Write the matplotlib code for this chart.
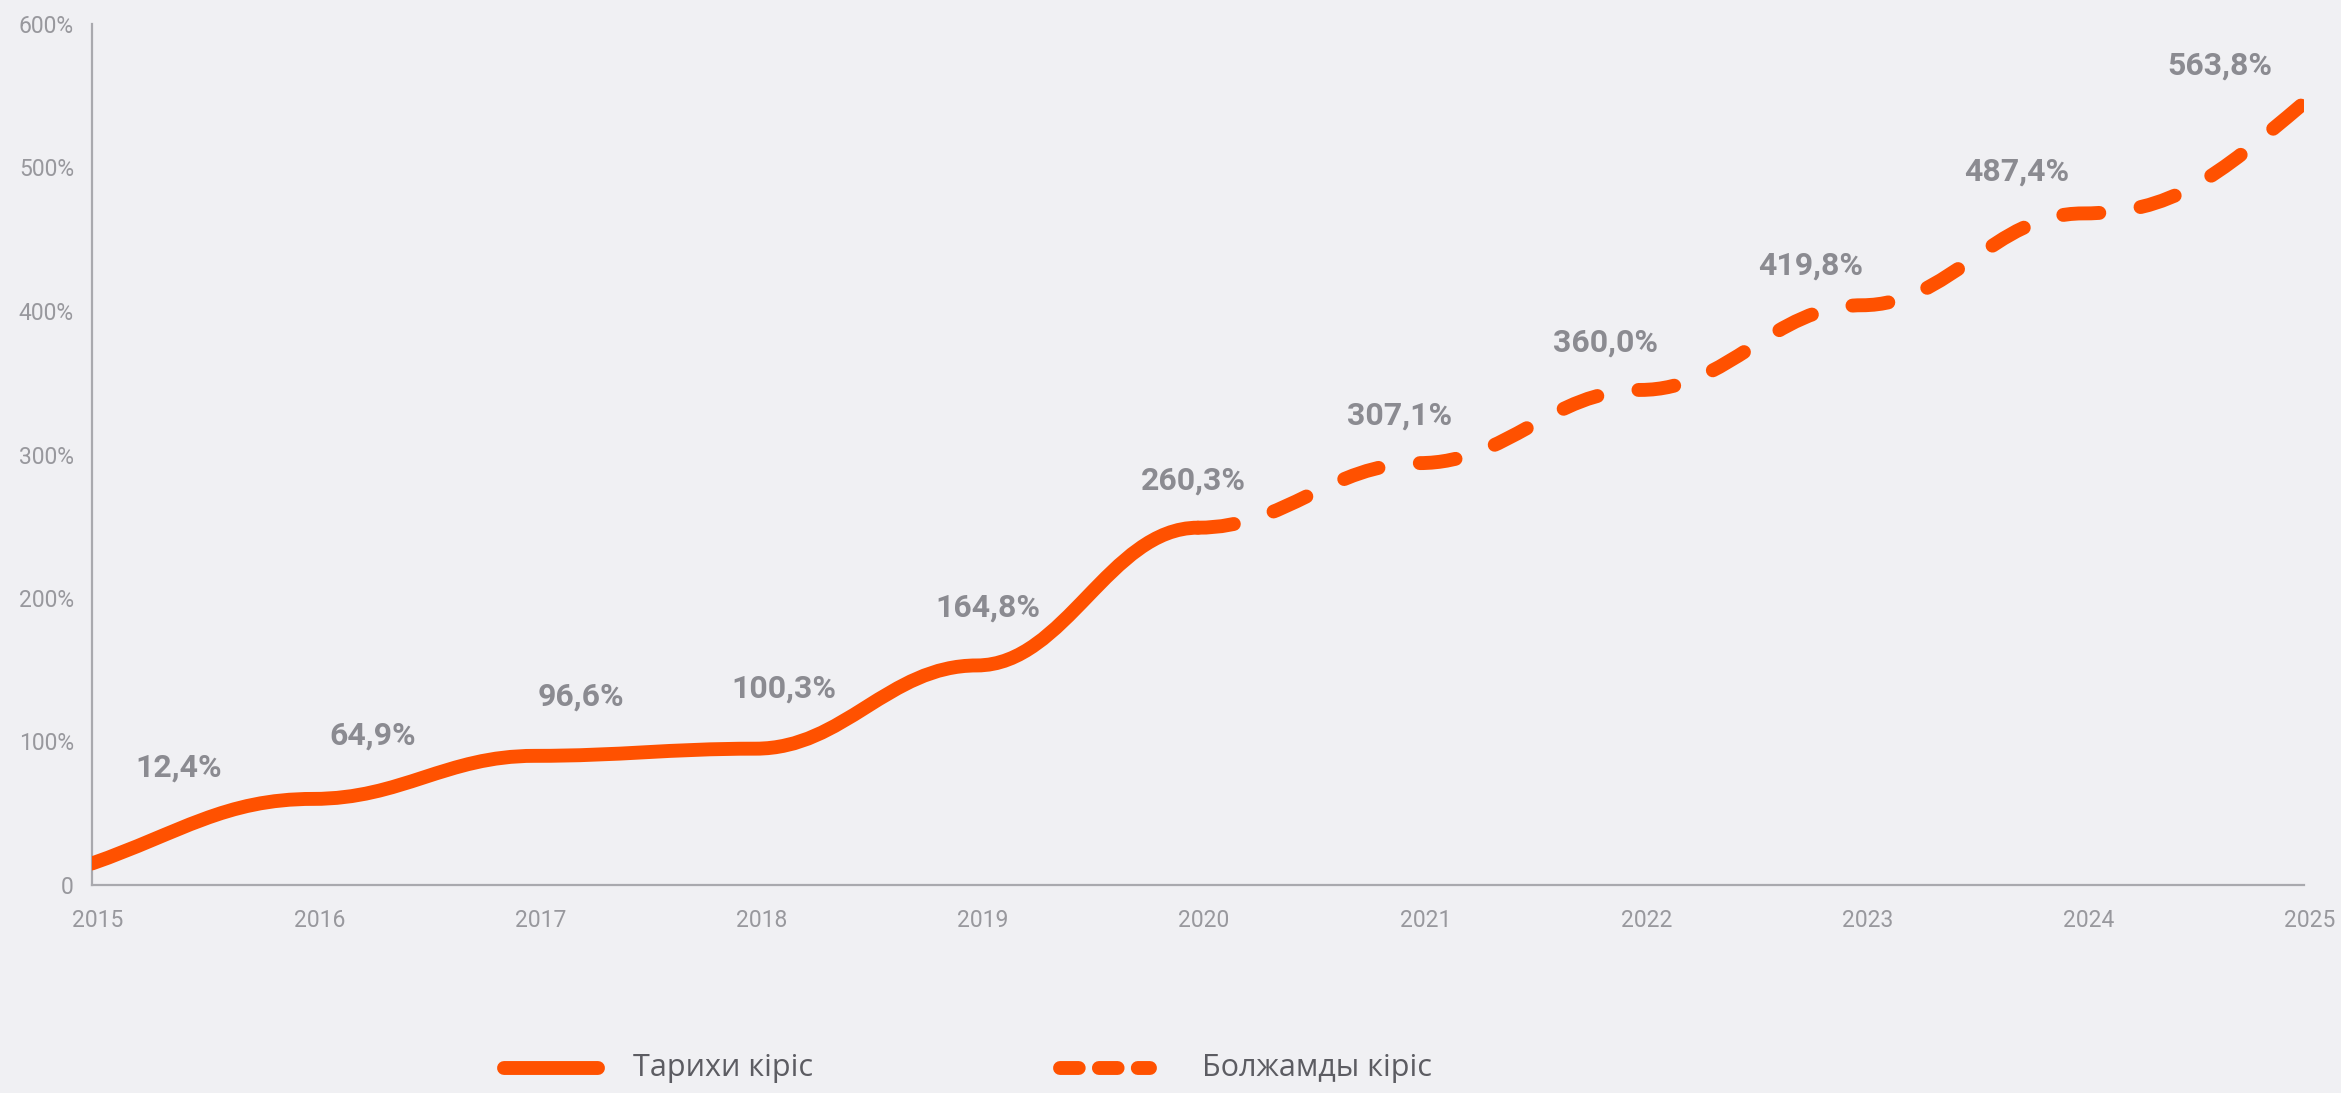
import matplotlib

matplotlib.use("Agg")
import matplotlib.pyplot as plt
import matplotlib.ticker as mticker
from matplotlib.path import Path
from matplotlib.patches import PathPatch
from matplotlib.lines import Line2D
from matplotlib.transforms import ScaledTranslation

# values
years = [2015, 2016, 2017, 2018, 2019, 2020, 2021, 2022, 2023, 2024, 2025]
line_level = [15, 60, 90, 95, 153, 249, 294, 345, 404, 468, 545]   # where the curve sits
growth_pct = [12.4, 64.9, 96.6, 100.3, 164.8, 260.3, 307.1, 360.0, 419.8, 487.4, 563.8]
forecast_from = 2020
y_ticks = [0, 100, 200, 300, 400, 500, 600]

# label placement (data coords), layout only
label_x = [2015.39, 2016.27, 2017.21, 2018.13, 2019.05, 2019.98, 2020.91, 2021.84, 2022.77, 2023.70, 2024.62]
label_y = [82, 104, 131, 137, 193, 282, 327, 378, 432, 497, 571]

ORANGE = "#ff5100"
BG = "#f0f0f3"
LABEL_GREY = "#8b8b91"
TICK_GREY = "#98989d"
AXIS_GREY = "#a9a9ae"
LW = 10


def bezier_path(xs, ys, first, last, a=0.4):
    # cubic bezier through the points, flat at interior knots
    n = len(xs)
    verts = [(xs[0], ys[0])]
    codes = [Path.MOVETO]
    for i in range(n - 1):
        dx = xs[i + 1] - xs[i]
        m0 = first if i == 0 else 0.0
        m1 = last if i == n - 2 else 0.0
        verts += [
            (xs[i] + a * dx, ys[i] + a * dx * m0),
            (xs[i + 1] - a * dx, ys[i + 1] - a * dx * m1),
            (xs[i + 1], ys[i + 1]),
        ]
        codes += [Path.CURVE4] * 3
    return Path(verts, codes)


k = years.index(forecast_from)
m_first = 1.2 * (line_level[1] - line_level[0]) / (years[1] - years[0])
m_last = 1.7 * (line_level[-1] - line_level[-2]) / (years[-1] - years[-2])

fig = plt.figure(figsize=(23.41, 10.93), dpi=100, facecolor=BG)
ax = fig.add_axes([92 / 2341, 208 / 1093, (2304 - 92) / 2341, (885 - 24) / 1093])
ax.set_facecolor(BG)

hist = bezier_path(years[: k + 1], line_level[: k + 1], m_first, 0.0)
fcst = bezier_path(years[k:], line_level[k:], 0.0, m_last)

ax.add_patch(PathPatch(hist, fill=False, edgecolor=ORANGE, linewidth=LW,
                       capstyle="round", joinstyle="round", zorder=3))
ax.add_patch(PathPatch(fcst, fill=False, edgecolor=ORANGE, linewidth=LW,
                       linestyle=(0, (2.6, 3.0)), capstyle="round", joinstyle="round", zorder=3))

for x, y, v in zip(label_x, label_y, growth_pct):
    ax.text(x, y, f"{v:.1f}%".replace(".", ","), ha="center", va="center",
            fontsize=23, fontweight="bold", family="Roboto", color=LABEL_GREY, zorder=4)

ax.set_xlim(years[0], years[-1])
ax.set_ylim(0, 600)
ax.set_xticks(years)
ax.set_yticks(y_ticks)
ax.yaxis.set_major_formatter(mticker.FuncFormatter(lambda v, _: "0" if v == 0 else f"{v:.0f}%"))

for side in ("top", "right"):
    ax.spines[side].set_visible(False)
for side in ("left", "bottom"):
    ax.spines[side].set_color(AXIS_GREY)
    ax.spines[side].set_linewidth(1.6)

ax.tick_params(axis="both", length=0, labelcolor=TICK_GREY, labelsize=16.5)
ax.tick_params(axis="x", pad=17)
ax.tick_params(axis="y", pad=13)
for lab in ax.get_xticklabels() + ax.get_yticklabels():
    lab.set_family("Roboto")
shift = ScaledTranslation(6 / 100, 0, fig.dpi_scale_trans)
for lab in ax.get_xticklabels():
    lab.set_transform(lab.get_transform() + shift)

# legend drawn by hand in figure pixels
legend_y = 1 - 1068 / 1093
fig.add_artist(Line2D([504 / 2341, 598 / 2341], [legend_y, legend_y], color=ORANGE,
                      linewidth=LW, solid_capstyle="round", transform=fig.transFigure))
fig.add_artist(Line2D([1060 / 2341, 1150 / 2341], [legend_y, legend_y], color=ORANGE,
                      linewidth=LW, linestyle=(0, (1.35, 1.45)), dash_capstyle="round",
                      transform=fig.transFigure))
fig.text(633 / 2341, legend_y, "Тарихи кіріс", ha="left", va="center",
         fontsize=22, family="Open Sans", color="#5c5c62")
fig.text(1202 / 2341, legend_y, "Болжамды кіріс", ha="left", va="center",
         fontsize=22, family="Open Sans", color="#5c5c62")

fig.savefig("out.png", dpi=100, facecolor=BG)
